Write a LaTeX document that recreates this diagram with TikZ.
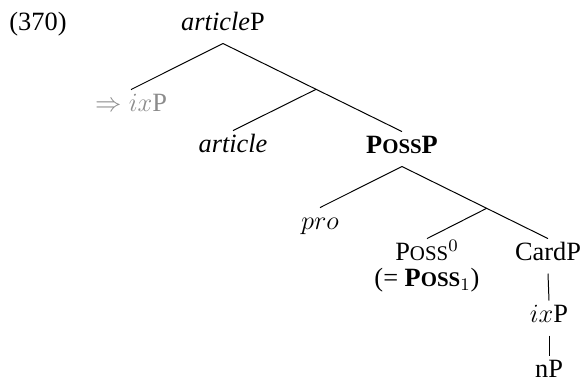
\documentclass[tikz,border=0pt,12pt]{standalone}
\usepackage[no-math]{fontspec}
\setmainfont{Liberation Serif}
\usetikzlibrary{calc}
\newcommand\fsc[1]{{\fontsize{9.5}{11}\selectfont #1}}
\begin{document}
\begin{tikzpicture}[x=0.455pt,y=-0.455pt,
  lbl/.style={anchor=base,inner sep=0pt,text height=10pt,text depth=5.5pt},
  edge/.style={line width=0.45pt}]
\useasboundingbox (0,0) rectangle (584,380);
\node[anchor=base west,inner sep=0pt] (ex) at (9,31) {(370)};
\node[lbl] (root) at (223,31) {\textit{article}P};
\node[lbl,text=black!45] (ixg) at (131,112) {$\Rightarrow ix$P};
\node[lbl] (art) at (233,153) {\textit{article}};
\node[lbl] (possp) at (402,154) {\textbf{P\fsc{OSS}P}};
\node[lbl] (pro) at (320,230) {$pro$};
\node[lbl] (poss) at (427,261) {P\fsc{OSS}$^0$};
\node[lbl] (posseq) at (427,287) {(= \textbf{P\fsc{OSS}}$_1$)};
\node[lbl] (card) at (548,261) {CardP};
\node[lbl] (ix) at (549,323) {$ix$P};
\node[lbl,text depth=0pt] (np) at (549,378) {nP};
\coordinate (j1) at ($(root.south)!0.52!(possp.north)$);
\coordinate (j2) at ($(possp.south)!0.58!(card.north)$);
\draw[edge] (root.south) -- (ixg.north);
\draw[edge] (root.south) -- (possp.north);
\draw[edge] (j1) -- (art.north);
\draw[edge] (possp.south) -- (pro.north);
\draw[edge] (possp.south) -- (card.north);
\draw[edge] (j2) -- (poss.north);
\draw[edge] (card.south) -- (ix.north);
\draw[edge] (ix.south) -- (np.north);
\end{tikzpicture}
\end{document}
